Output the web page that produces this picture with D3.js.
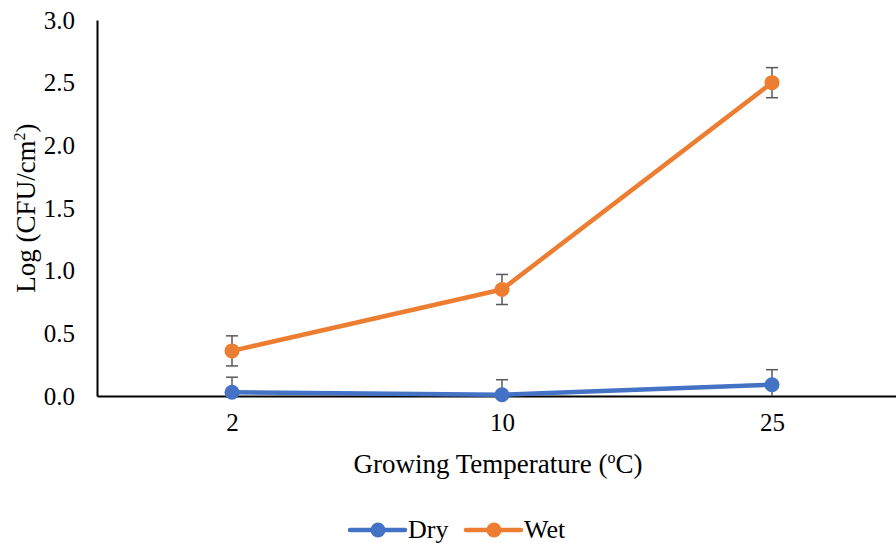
<!DOCTYPE html>
<html><head><meta charset="utf-8">
<script src="https://cdn.jsdelivr.net/npm/d3@7"></script>
<style>body{margin:0;background:#fff}svg text{font-family:'Liberation Serif','Times New Roman',Times,serif !important}</style>
</head><body><svg id="c" width="896" height="543"></svg>
<script>
const categories = ["2", "10", "25"];
const dryValues = [0.03, 0.01, 0.09];
const dryErrors = [0.12, 0.12, 0.12];
const wetValues = [0.36, 0.85, 2.50];
const wetErrors = [0.12, 0.12, 0.12];
const yTicks = [0, 0.5, 1.0, 1.5, 2.0, 2.5, 3.0];
const seriesNames = ["Dry", "Wet"];
const seriesColors = ["#4472C4", "#ED7D31"];

const svg = d3.select("#c");
const x = d3.scalePoint().domain(categories).range([97, 907]).padding(0.5);
const y = d3.scaleLinear().domain([0, 3]).range([396, 20]);

// y axis
const ya = svg.append("g").attr("transform", "translate(97,0)")
  .call(d3.axisLeft(y).tickValues(yTicks).tickFormat(d3.format(".1f")).tickSize(0).tickPadding(22));
ya.select(".domain").attr("stroke", "#000").attr("stroke-width", 2);
ya.selectAll("text").attr("font-size", 25).attr("fill", "#000");

// x axis
const xa = svg.append("g").attr("transform", "translate(0,396)")
  .call(d3.axisBottom(x).tickSize(0).tickPadding(17));
xa.select(".domain").attr("stroke", "#000").attr("stroke-width", 2);
xa.selectAll("text").attr("font-size", 25).attr("fill", "#000");

svg.append("clipPath").attr("id", "clip").append("rect").attr("x", 90).attr("y", 0).attr("width", 820).attr("height", 396);

const series = [
  {name: seriesNames[0], color: seriesColors[0], vals: dryValues, errs: dryErrors},
  {name: seriesNames[1], color: seriesColors[1], vals: wetValues, errs: wetErrors}
];
const line = d3.line().x((d, i) => x(categories[i])).y(d => y(d));

series.forEach(s => {
  svg.append("path").datum(s.vals).attr("d", line).attr("fill", "none")
    .attr("stroke", s.color).attr("stroke-width", 4.5).attr("stroke-linejoin", "round");
  const eg = svg.append("g").attr("clip-path", "url(#clip)");
  s.vals.forEach((v, i) => {
    const cx = x(categories[i]);
    const t = y(v + s.errs[i]), b = y(v - s.errs[i]);
    eg.append("line").attr("x1", cx).attr("x2", cx).attr("y1", t).attr("y2", b).attr("stroke", "#595959").attr("stroke-width", 1.5);
    [t, b].forEach(yy => eg.append("line").attr("x1", cx - 6).attr("x2", cx + 6).attr("y1", yy).attr("y2", yy).attr("stroke", "#595959").attr("stroke-width", 1.5));
  });
});
series.forEach(s => {
  svg.append("g").selectAll("circle").data(s.vals).join("circle")
    .attr("cx", (d, i) => x(categories[i])).attr("cy", d => y(d)).attr("r", 7.5).attr("fill", s.color);
});

// axis titles
const yt = svg.append("text").attr("transform", "translate(35,208) rotate(-90)").attr("text-anchor", "middle")
  .attr("font-size", 27).attr("fill", "#000");
yt.append("tspan").text("Log (CFU/cm");
yt.append("tspan").text("2").attr("font-size", 16).attr("dy", -10);
yt.append("tspan").text(")").attr("dy", 10);

const xt = svg.append("text").attr("x", 498).attr("y", 473).attr("text-anchor", "middle")
  .attr("font-size", 27).attr("fill", "#000");
xt.append("tspan").text("Growing Temperature (");
xt.append("tspan").text("o").attr("font-size", 16).attr("dy", -10);
xt.append("tspan").text("C)").attr("dy", 10);

// legend
const legX = [350, 466];
series.forEach((s, i) => {
  const lg = svg.append("g").attr("transform", `translate(${legX[i]},530)`);
  lg.append("line").attr("x1", 0).attr("x2", 55).attr("stroke", s.color).attr("stroke-width", 4.5).attr("stroke-linecap", "round");
  lg.append("circle").attr("cx", 28).attr("r", 7.5).attr("fill", s.color);
  lg.append("text").attr("x", 58).attr("y", 8).attr("font-size", 26).attr("fill", "#000").text(s.name);
});
</script></body></html>
